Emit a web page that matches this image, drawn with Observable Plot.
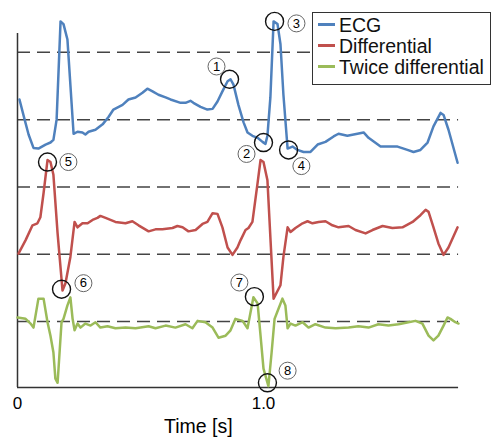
<!DOCTYPE html>
<html>
<head>
<meta charset="utf-8">
<script src="https://cdn.jsdelivr.net/npm/d3@7"></script>
<script src="https://cdn.jsdelivr.net/npm/@observablehq/plot@0.6"></script>
<style>
  html, body { margin: 0; padding: 0; background: #fff; }
  #wrap { position: relative; width: 493px; height: 439px; font-family: "Liberation Sans", Arial, sans-serif; }
  #legend { position: absolute; left: 312px; top: 12px; width: 177px; height: 71px; border: 1.5px solid #333; background: #fff; }
  .row { position: absolute; left: 0; height: 22px; line-height: 22px; display: flex; align-items: center; font-size: 19.5px; color: #111; white-space: nowrap; }
  .sw { width: 17px; height: 2.5px; margin-left: 5px; margin-right: 4px; }
</style>
</head>
<body>
<div id="wrap"></div>
<script>
// ---- data ----
const seriesNames = ["ECG", "Differential", "Twice differential"];
const seriesColors = ["#4F81BD", "#C0504D", "#9BBB59"];
const seriesOffsets = [3, 1, 0];
const baselines = [0, 1, 2, 3, 4];

const ecgT = [0.008,0.024,0.045,0.065,0.085,0.114,0.134,0.146,0.159,0.175,0.187,0.203,0.228,0.244,0.264,0.276,0.289,0.317,0.346,0.370,0.390,0.427,0.451,0.480,0.508,0.528,0.549,0.573,0.602,0.622,0.663,0.683,0.703,0.715,0.744,0.772,0.793,0.813,0.833,0.854,0.866,0.878,0.898,0.919,0.935,0.955,0.976,0.996,1.008,1.016,1.028,1.041,1.057,1.069,1.081,1.098,1.118,1.138,1.163,1.191,1.220,1.252,1.285,1.305,1.341,1.382,1.407,1.427,1.476,1.504,1.545,1.585,1.610,1.638,1.667,1.691,1.720,1.732,1.752,1.789];
const ecgV = [0.30,0.07,-0.22,-0.42,-0.43,-0.37,-0.34,-0.30,0.00,1.46,1.42,1.19,-0.21,-0.18,-0.19,-0.22,-0.18,-0.15,-0.07,0.04,0.15,0.22,0.30,0.33,0.40,0.46,0.42,0.37,0.33,0.30,0.25,0.25,0.28,0.25,0.19,0.15,0.16,0.27,0.42,0.57,0.60,0.52,0.22,-0.04,-0.19,-0.24,-0.27,-0.33,-0.36,-0.24,0.33,1.46,1.42,1.12,0.37,-0.43,-0.40,-0.45,-0.48,-0.48,-0.37,-0.33,-0.25,-0.21,-0.24,-0.21,-0.19,-0.27,-0.40,-0.40,-0.40,-0.45,-0.48,-0.45,-0.34,-0.10,0.10,0.07,-0.15,-0.64];

const diffT = [0.004,0.033,0.061,0.081,0.093,0.106,0.122,0.134,0.146,0.163,0.183,0.195,0.215,0.232,0.244,0.264,0.285,0.305,0.325,0.337,0.358,0.398,0.439,0.467,0.492,0.533,0.561,0.589,0.630,0.650,0.671,0.695,0.724,0.752,0.772,0.793,0.813,0.833,0.854,0.874,0.894,0.907,0.927,0.939,0.955,0.976,0.988,1.000,1.016,1.028,1.041,1.069,1.081,1.098,1.110,1.130,1.159,1.179,1.199,1.224,1.252,1.280,1.305,1.346,1.374,1.415,1.443,1.484,1.524,1.565,1.606,1.638,1.659,1.671,1.691,1.711,1.732,1.752,1.789];
const diffV = [0.01,0.21,0.43,0.46,0.55,0.91,1.40,1.37,1.18,0.31,-0.54,-0.43,-0.04,0.48,0.40,0.46,0.46,0.51,0.54,0.57,0.54,0.48,0.46,0.49,0.43,0.34,0.37,0.37,0.39,0.42,0.40,0.34,0.36,0.45,0.48,0.61,0.60,0.40,0.10,-0.01,0.10,0.21,0.36,0.39,0.48,1.06,1.40,1.37,1.10,0.25,-0.66,-0.46,-0.04,0.40,0.33,0.39,0.46,0.49,0.46,0.48,0.49,0.43,0.40,0.42,0.36,0.31,0.36,0.42,0.39,0.40,0.48,0.58,0.66,0.63,0.40,0.16,-0.01,0.10,0.40];

const twiceT = [0.000,0.033,0.053,0.065,0.085,0.106,0.122,0.134,0.146,0.154,0.163,0.171,0.179,0.187,0.203,0.215,0.224,0.232,0.244,0.256,0.276,0.297,0.317,0.337,0.366,0.398,0.439,0.480,0.533,0.561,0.602,0.642,0.683,0.711,0.732,0.764,0.793,0.817,0.846,0.866,0.886,0.915,0.935,0.947,0.959,0.976,0.988,1.000,1.020,1.033,1.045,1.061,1.077,1.089,1.098,1.110,1.130,1.159,1.183,1.211,1.252,1.293,1.346,1.386,1.427,1.467,1.508,1.549,1.589,1.618,1.646,1.671,1.691,1.711,1.732,1.748,1.760,1.780,1.793];
const twiceV = [0.06,0.04,-0.03,-0.09,0.34,0.34,-0.01,-0.21,-0.46,-0.85,-0.91,-0.46,-0.01,0.04,0.24,0.36,0.04,-0.13,-0.03,-0.09,-0.03,-0.06,-0.01,-0.09,-0.07,-0.10,-0.09,-0.10,-0.07,-0.10,-0.06,-0.09,-0.04,-0.10,0.01,-0.01,-0.09,-0.24,-0.21,-0.13,0.04,0.01,-0.10,0.13,0.36,0.27,-0.21,-0.70,-0.96,-0.46,0.04,0.19,0.34,0.24,-0.10,-0.03,-0.06,-0.01,-0.09,-0.04,-0.09,-0.10,-0.09,-0.07,-0.09,-0.04,-0.06,-0.04,-0.01,0.01,-0.03,-0.21,-0.28,-0.21,-0.06,0.06,0.04,-0.01,-0.03];

// annotated points (chart units)
const markerT = [0.862, 1.000, 1.045, 1.102, 0.122, 0.179, 0.963, 1.016];
const markerV = [3.60, 2.66, 4.46, 2.55, 2.37, 0.48, 0.37, -0.91];
const markerLabels = ["1","2","3","4","5","6","7","8"];
const labelT = [0.809, 0.931, 1.134, 1.154, 0.207, 0.268, 0.902, 1.098];
const labelV = [3.79, 2.49, 4.43, 2.31, 2.37, 0.57, 0.58, -0.73];

const tickValues = [0, 1];
const tickLabels = ["0", "1.0"];
const xLabel = "Time [s]";
const xLabelT = 0.735;
const tEnd = 1.793;
const yBottom = -0.98, yTop = 4.28;

// ---- build ----
const zip = (T, V, off, name) => T.slice(0, Math.min(T.length, V.length)).map((t, i) => ({t, v: V[i] + off, name}));
const series = [
  zip(ecgT, ecgV, seriesOffsets[0], seriesNames[0]),
  zip(diffT, diffV, seriesOffsets[1], seriesNames[1]),
  zip(twiceT, twiceV, seriesOffsets[2], seriesNames[2])
];
const markers = markerT.map((t, i) => ({t, v: markerV[i]}));
const labels = labelT.map((t, i) => ({t, v: labelV[i], s: markerLabels[i]}));
const ticks = tickValues.map((t, i) => ({t, s: tickLabels[i]}));

const chart = Plot.plot({
  width: 493,
  height: 439,
  marginLeft: 17,
  marginRight: 0,
  marginTop: 33,
  marginBottom: 52,
  x: {domain: [0, 1.935], axis: null},
  y: {domain: [yBottom, yTop], axis: null},
  style: {fontFamily: "'Liberation Sans', Arial, sans-serif", background: "transparent", overflow: "visible"},
  marks: [
    Plot.ruleY(baselines, {x1: 0, x2: tEnd, stroke: "#444", strokeWidth: 1.5, strokeDasharray: "13,7"}),
    Plot.ruleX([0], {y1: yBottom, y2: yTop, stroke: "#333", strokeWidth: 1.5}),
    Plot.ruleY([yBottom], {x1: 0, x2: tEnd, stroke: "#333", strokeWidth: 1.5}),
    ...series.map((d, i) => Plot.line(d, {x: "t", y: "v", stroke: seriesColors[i], strokeWidth: 2.5, strokeLinejoin: "round"})),
    Plot.dot(markers, {x: "t", y: "v", r: 9, stroke: "#111", strokeWidth: 1.4, fill: "none"}),
    Plot.dot(labels, {x: "t", y: "v", r: 8.5, stroke: "#666", strokeWidth: 1, fill: "none"}),
    Plot.text(labels, {x: "t", y: "v", text: "s", fontSize: 13, fill: "black"}),
    Plot.text(ticks, {x: "t", text: "s", frameAnchor: "bottom", dy: 21, fontSize: 17, fill: "black"}),
    Plot.text([xLabel], {x: () => xLabelT, text: d => d, frameAnchor: "bottom", dy: 45, fontSize: 19.5, fill: "black"})
  ]
});

const wrap = document.getElementById("wrap");
wrap.appendChild(chart);

const legend = document.createElement("div");
legend.id = "legend";
seriesNames.forEach((name, i) => {
  const row = document.createElement("div");
  row.className = "row";
  row.style.top = (0.5 + i * 21) + "px";
  const sw = document.createElement("span");
  sw.className = "sw";
  sw.style.background = seriesColors[i];
  const tx = document.createElement("span");
  tx.textContent = name;
  row.appendChild(sw);
  row.appendChild(tx);
  legend.appendChild(row);
});
wrap.appendChild(legend);
</script>
</body>
</html>
